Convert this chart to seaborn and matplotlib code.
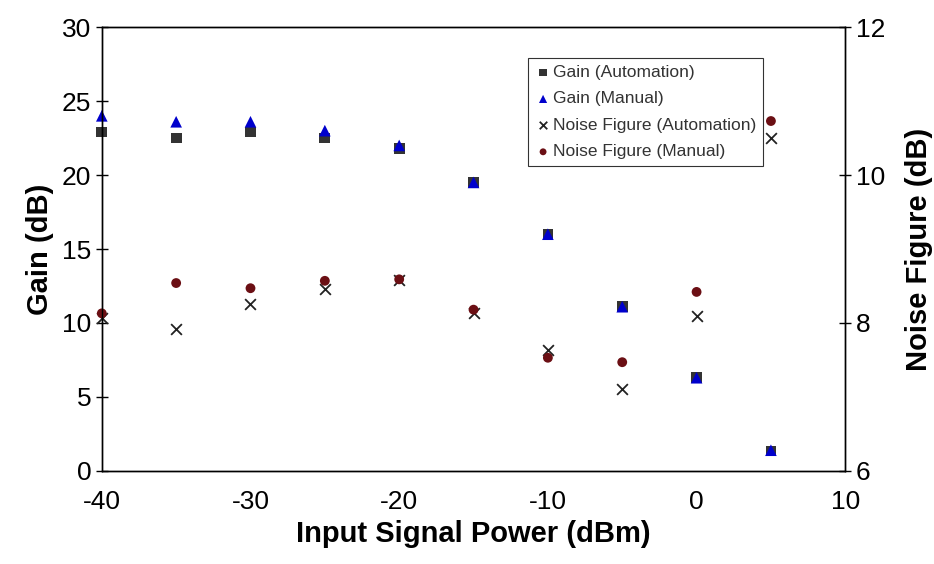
import numpy as np
import pandas as pd
import seaborn as sns
import matplotlib.pyplot as plt

power = [-40, -35, -30, -25, -20, -15, -10, -5, 0, 5]
gain_auto = [22.9, 22.5, 22.9, 22.5, 21.8, 19.5, 16.0, 11.1, 6.3, 1.35]
gain_manual = [24.0, 23.6, 23.6, 23.0, 22.0, 19.5, 16.0, 11.1, 6.3, 1.4]
nf_auto = [8.07, 7.92, 8.26, 8.46, 8.58, 8.13, 7.64, 7.11, 8.09, 10.5]
nf_manual = [8.13, 8.54, 8.47, 8.57, 8.59, 8.18, 7.53, 7.47, 8.42, 10.73]

sns.set_style("white")
plt.rcParams['font.family'] = ['Liberation Sans', 'DejaVu Sans']
plt.rcParams['axes.unicode_minus'] = False
plt.rcParams['text.color'] = 'black'
plt.rcParams['axes.labelcolor'] = 'black'

fig = plt.figure(figsize=(9.34, 5.64), dpi=100)
ax = fig.add_axes([0.109, 0.165, 0.796, 0.787])
ax2 = ax.twinx()

sns.scatterplot(x=power, y=gain_auto, ax=ax, marker='s', color='#333333', s=60,
                edgecolor='none', label='Gain (Automation)', legend=False, clip_on=False)
sns.scatterplot(x=power, y=gain_manual, ax=ax, marker='^', color='#0000cc', s=70,
                edgecolor='none', label='Gain (Manual)', legend=False, clip_on=False)
sns.scatterplot(x=power, y=nf_auto, ax=ax2, marker='x', color='#222222', s=60,
                linewidth=1.3, label='Noise Figure (Automation)', legend=False, clip_on=False)
sns.scatterplot(x=power, y=nf_manual, ax=ax2, marker='o', color='#6b0f14', s=50,
                edgecolor='none', label='Noise Figure (Manual)', legend=False, clip_on=False)

ax.set_xlim(-40, 10)
ax.set_ylim(0, 30)
ax2.set_ylim(6, 12)
ax.set_xticks([-40, -30, -20, -10, 0, 10])
ax.set_yticks([0, 5, 10, 15, 20, 25, 30])
ax2.set_yticks([6, 8, 10, 12])

for a in (ax, ax2):
    a.tick_params(direction='inout', length=8, width=1, labelsize=19,
                  color='black', labelcolor='black')
    for sp in a.spines.values():
        sp.set_color('black')
        sp.set_linewidth(1)
ax.tick_params(axis='x', pad=10)

ax.set_xlabel('Input Signal Power (dBm)', fontsize=21, fontweight='bold', labelpad=4)
ax.set_ylabel('Gain (dB)', fontsize=21, fontweight='bold', labelpad=6)
ax2.set_ylabel('Noise Figure (dB)', fontsize=21, fontweight='bold', labelpad=14)

h1, l1 = ax.get_legend_handles_labels()
h2, l2 = ax2.get_legend_handles_labels()
leg = ax2.legend(h1 + h2, l1 + l2, loc='upper left', bbox_to_anchor=(0.562, 0.95),
                 fontsize=12.5, frameon=True, fancybox=False, handletextpad=0.1,
                 handlelength=0.9, borderpad=0.4, labelspacing=0.65, markerscale=0.7)
leg.get_frame().set_edgecolor('black')
leg.get_frame().set_linewidth(0.8)
for t in leg.get_texts():
    t.set_color('#333333')

fig.savefig('out.png', dpi=100)
